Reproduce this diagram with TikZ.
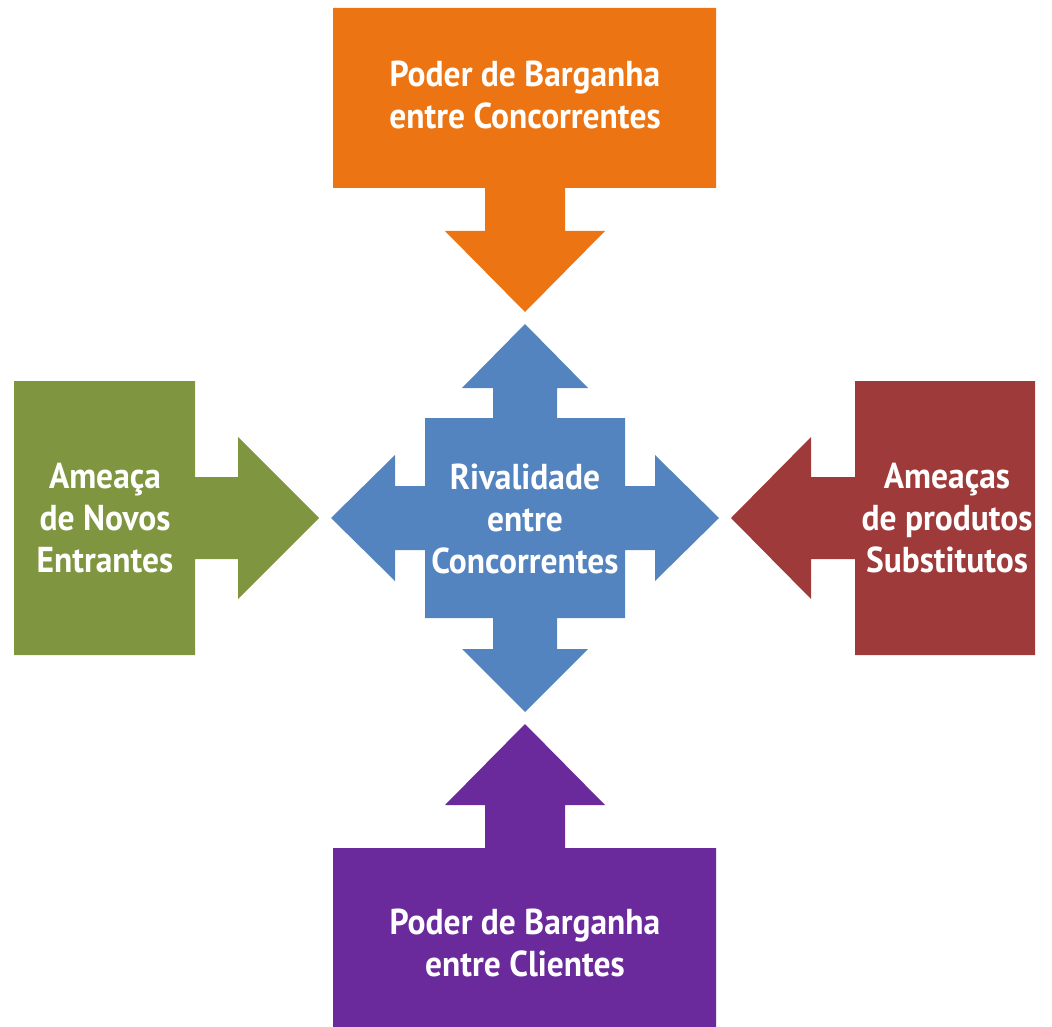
\documentclass[tikz,border=0pt]{standalone}
\usepackage{fontspec}
\setmainfont[FakeStretch=0.93]{PT Sans}
\usepackage{tikz}

\definecolor{forceorange}{HTML}{ED7412}
\definecolor{forcegreen}{HTML}{7F953F}
\definecolor{forcered}{HTML}{9E3A39}
\definecolor{forcepurple}{HTML}{6A2A9C}
\definecolor{forceblue}{HTML}{5384BF}

\tikzset{
  forcetext/.style={text=white,align=center,font=\fontsize{36}{42}\selectfont\bfseries,inner sep=0pt}
}

\begin{document}
\begin{tikzpicture}[x=1pt,y=-1pt]
\useasboundingbox (0,0) rectangle (1052,1027);
% top: suppliers
\fill[forceorange] (333,8) -- (716,8) -- (716,188) -- (565,188) -- (565,231) -- (605,231)
  -- (525,312) -- (445,231) -- (485,231) -- (485,188) -- (333,188) -- cycle;
\node[forcetext] (fornec) at (525,95) {Poder de Barganha\\entre Concorrentes};
% bottom: clients
\fill[forcepurple] (333,1027) -- (716,1027) -- (716,848) -- (565,848) -- (565,805) -- (605,805)
  -- (525,724) -- (445,805) -- (485,805) -- (485,848) -- (333,848) -- cycle;
\node[forcetext] (clientes) at (525,943) {Poder de Barganha\\entre Clientes};
% left: new entrants
\fill[forcegreen] (14,381) -- (195,381) -- (195,477) -- (238,477) -- (238,437) -- (319,518)
  -- (238,599) -- (238,559) -- (195,559) -- (195,655) -- (14,655) -- cycle;
\node[forcetext] (novos) at (105,518) {Ameaça\\de Novos\\Entrantes};
% right: substitutes
\fill[forcered] (1035,381) -- (855,381) -- (855,477) -- (811,477) -- (811,437) -- (731,518)
  -- (811,599) -- (811,559) -- (855,559) -- (855,655) -- (1035,655) -- cycle;
\node[forcetext] (subst) at (947,518) {Ameaças\\de produtos\\Substitutos};
% center: rivalry
\fill[forceblue] (525,324) -- (588,388) -- (557,388) -- (557,418) -- (625,418) -- (625,486)
  -- (655,486) -- (655,455) -- (719,518) -- (655,581) -- (655,550) -- (625,550) -- (625,618)
  -- (557,618) -- (557,649) -- (588,649) -- (525,712) -- (462,649) -- (493,649) -- (493,618)
  -- (425,618) -- (425,550) -- (395,550) -- (395,581) -- (331,518) -- (395,455) -- (395,486)
  -- (425,486) -- (425,418) -- (493,418) -- (493,388) -- (462,388) -- cycle;
\node[forcetext] (rival) at (525,519) {Rivalidade\\entre\\Concorrentes};
\end{tikzpicture}
\end{document}
